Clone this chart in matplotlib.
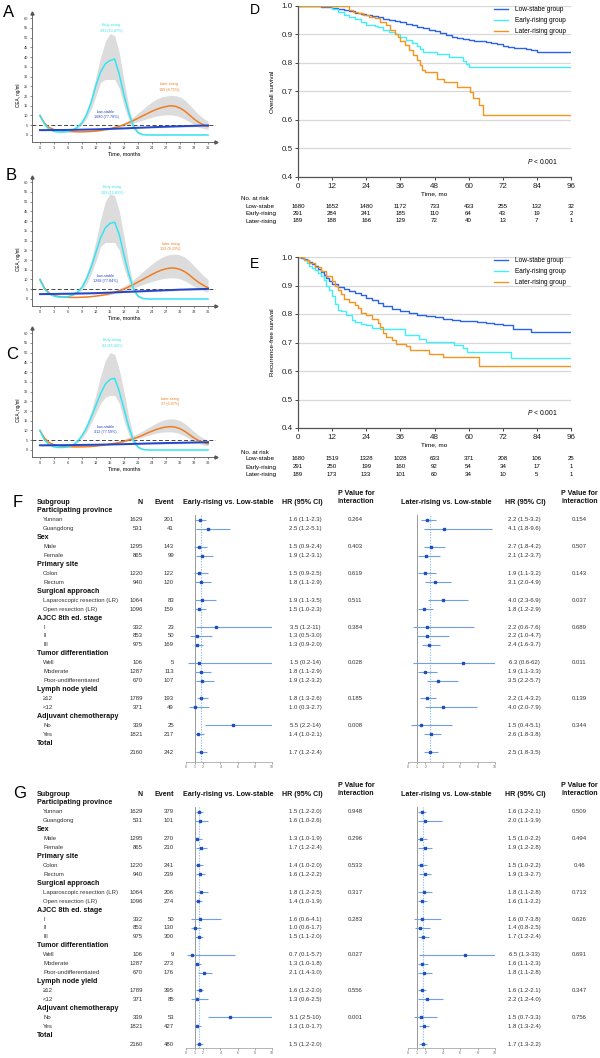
import numpy as np
import matplotlib
matplotlib.use('Agg')
import matplotlib.pyplot as plt
from matplotlib import transforms

plt.rcParams['font.family'] = ['Liberation Sans', 'DejaVu Sans']
plt.rcParams['mathtext.fontset'] = 'custom'
plt.rcParams['mathtext.it'] = 'Liberation Sans:italic'
plt.rcParams['mathtext.rm'] = 'Liberation Sans'

# ---------------- trajectory data (CEA, ng/ml by month) ----------------
months = list(range(37))
early_band_t = list(range(7, 23))
later_band_t = list(range(14, 37))
low_t = [0, 6, 12, 18, 24, 30, 36]
traj_names = ['Low-stable', 'Early-rising', 'Later-rising']

a_counts = [1680, 291, 189]
a_early = [10, 5.5, 2.8, 1.8, 1.5, 1.5, 1.8, 2.6, 4, 6.2, 10.5, 17, 25.5, 32.5, 36.5, 38.2, 39, 31, 20.5, 11.5, 4.5, 1.2, 0.2,
           0, 0, 0, 0, 0, 0, 0, 0, 0, 0, 0, 0, 0, 0]
a_early_hi = [2.8, 4.5, 7.5, 12.5, 20, 30, 40, 48, 52, 51, 42, 28, 15, 6, 1.8, 0.3]
a_early_lo = [2.4, 3.6, 5.2, 8.5, 13.5, 20, 27, 28.5, 28.5, 28.5, 24, 15, 8, 3, 0.6, 0]
a_later = [10, 6, 3.8, 2.8, 2.3, 2, 1.8, 1.7, 1.6, 1.6, 1.7, 1.8, 2, 2.3, 2.7, 3.2, 3.8, 4.5, 5.3, 6.3, 7.4, 8.6, 9.8,
           11, 12.2, 13.2, 14, 14.6, 15, 14.7, 13.8, 12.3, 10.3, 8.2, 6.5, 5.2, 4.4]
a_later_hi = [3.0, 3.5, 4.2, 5, 6, 7.5, 9.3, 11.3, 13.2, 15.2, 17, 18.5, 19.5, 20, 20.3, 20.2, 19.5, 18, 15.5, 13, 10.5, 8.5, 7]
a_later_lo = [2.4, 2.8, 3.2, 3.8, 4.5, 5.2, 6, 6.8, 7.6, 8.4, 9.1, 9.7, 10.1, 10.3, 10.3, 10, 9.3, 8.2, 6.8, 5.3, 4, 3.3, 2.9]
a_low = [2.5, 2.6, 2.9, 3.4, 4.0, 4.5, 4.9]
a_low_hi = [2.9, 3.0, 3.3, 3.8, 4.4, 5.0, 5.5]
a_low_lo = [2.1, 2.2, 2.5, 3.0, 3.6, 4.0, 4.3]

b_counts = [1268, 209, 152]
b_early = [10, 5, 2.5, 1.5, 1, 1, 1.2, 2, 3.5, 6, 10.5, 16.5, 24, 31.5, 36.5, 38.8, 39.4, 33, 22.5, 13, 5.5, 1.5, 0.3,
           0, 0, 0, 0, 0, 0, 0, 0, 0, 0, 0, 0, 0, 0]
b_early_hi = [2.3, 4.2, 7.5, 13, 20, 30, 41, 50, 54, 53, 45, 32, 18, 7, 2, 0.3]
b_early_lo = [1.7, 2.8, 4.5, 8, 13, 19.5, 27, 29, 29, 29, 25, 16, 9, 3.5, 0.8, 0]
b_later = [10, 5.5, 3, 1.8, 1.3, 1, 0.9, 0.8, 0.8, 0.9, 1, 1.2, 1.5, 1.8, 2.2, 2.8, 3.4, 4.2, 5.1, 6.2, 7.4, 8.7, 10,
           11.3, 12.6, 13.8, 14.8, 15.5, 15.9, 15.8, 15.2, 14, 12.3, 10.3, 8.5, 7, 5.8]
b_later_hi = [2.8, 3.5, 4.3, 5.3, 6.5, 8, 9.8, 11.8, 14, 16, 18, 19.8, 21.2, 22.3, 22.9, 23, 22.6, 21.5, 19.5, 17, 14.5, 12, 10]
b_later_lo = [1.8, 2.2, 2.7, 3.3, 4, 4.8, 5.6, 6.5, 7.4, 8.2, 9, 9.7, 10.3, 10.7, 10.9, 10.8, 10.3, 9.3, 8, 6.5, 5.2, 4.2, 3.5]
b_low = [2.5, 2.7, 3.0, 3.6, 4.2, 4.8, 5.2]
b_low_hi = [2.9, 3.1, 3.4, 4.0, 4.7, 5.3, 5.8]
b_low_lo = [2.1, 2.3, 2.6, 3.2, 3.7, 4.3, 4.6]

c_counts = [412, 82, 37]
c_early = [10, 5, 2.6, 1.6, 1.3, 1.3, 1.6, 2.5, 4.3, 7.3, 11.5, 17, 23, 29, 33.8, 36.2, 36.8, 30, 21, 12, 5, 1.5, 0.3,
           0, 0, 0, 0, 0, 0, 0, 0, 0, 0, 0, 0, 0, 0]
c_early_hi = [2.8, 5, 8.5, 13.5, 20, 28.5, 38, 46, 50, 49, 41, 30, 17, 7, 2, 0.4]
c_early_lo = [2.2, 3.6, 6, 9.5, 14, 19, 24, 27, 28, 28, 24, 15, 8, 3, 0.8, 0]
c_later = [10, 6, 3.8, 2.7, 2.2, 1.9, 1.7, 1.6, 1.6, 1.6, 1.7, 1.8, 2, 2.3, 2.6, 3, 3.4, 3.8, 4.4, 5.1, 5.8, 6.6, 7.6,
           8.7, 9.7, 10.6, 11.3, 11.8, 12, 11.7, 10.9, 9.6, 7.9, 6.2, 4.8, 3.8, 3.2]
c_later_hi = [2.9, 3.4, 4, 4.7, 5.5, 6.4, 7.4, 8.5, 9.8, 11.2, 12.6, 13.9, 15, 15.7, 16, 15.8, 15, 13.6, 11.6, 9.5, 7.5, 6, 5]
c_later_lo = [2.3, 2.6, 3, 3.5, 4, 4.6, 5.2, 5.9, 6.6, 7.4, 8.1, 8.7, 9.1, 9.3, 9.3, 9, 8.3, 7.2, 5.8, 4.4, 3.4, 2.6, 2.1]
c_low = [2.4, 2.5, 2.7, 3.0, 3.4, 3.7, 4.0]
c_low_hi = [2.8, 2.9, 3.1, 3.4, 3.8, 4.2, 4.5]
c_low_lo = [2.0, 2.1, 2.3, 2.6, 3.0, 3.2, 3.5]

# ---------------- Kaplan-Meier data ----------------
km_labels = ['Low-stabe group', 'Early-rising group', 'Later-rising group']
risk_rows = ['Low-stabe', 'Early-rising', 'Later-rising']
risk_times = [0, 12, 24, 36, 48, 60, 72, 84, 96]

os_low_t = [0, 8, 10, 12, 14, 16, 18, 20, 22, 24, 26, 28, 30, 32, 34, 36, 38, 40, 42, 44, 46, 48, 50, 52, 54, 56, 58,
            60, 62, 64, 66, 68, 70, 72, 74, 76, 78, 80, 82, 84, 96]
os_low_s = [1.0, 0.998, 0.995, 0.992, 0.988, 0.985, 0.981, 0.977, 0.972, 0.968, 0.964, 0.96, 0.956, 0.952, 0.948,
            0.944, 0.938, 0.932, 0.927, 0.922, 0.917, 0.912, 0.905, 0.898, 0.891, 0.887, 0.884, 0.88, 0.878, 0.876,
            0.873, 0.87, 0.866, 0.858, 0.856, 0.854, 0.851, 0.848, 0.845, 0.838, 0.838]
os_early_t = [0, 12, 14, 16, 18, 20, 22, 24, 27, 28, 30, 32, 34, 36, 38, 40, 42, 43, 44, 49, 53, 58, 59, 60, 96]
os_early_s = [1.0, 0.99, 0.98, 0.97, 0.962, 0.953, 0.943, 0.933, 0.931, 0.925, 0.916, 0.908, 0.9, 0.892, 0.88, 0.869,
              0.858, 0.848, 0.84, 0.831, 0.822, 0.808, 0.796, 0.787, 0.787]
os_later_t = [0, 18, 19.5, 21, 23, 25, 27, 29, 31, 32.5, 34, 35, 36, 37.5, 39, 40.5, 42, 43, 43.5, 44.5, 49, 51.5, 56,
              60.5, 61.5, 63.5, 65, 96]
os_later_s = [1.0, 0.986, 0.98, 0.974, 0.968, 0.962, 0.957, 0.945, 0.933, 0.915, 0.9, 0.89, 0.876, 0.863, 0.845, 0.828,
              0.81, 0.793, 0.775, 0.769, 0.745, 0.734, 0.716, 0.699, 0.676, 0.652, 0.617, 0.617]
os_risk = [[1680, 1652, 1480, 1172, 733, 433, 255, 132, 32],
           [291, 284, 241, 185, 110, 64, 43, 19, 2],
           [189, 188, 166, 129, 72, 40, 13, 7, 1]]

rfs_low_t = [0, 1, 2, 3, 4, 5, 6, 7, 8, 9, 10, 11, 12, 14, 16, 18, 20, 22, 24, 26, 28, 30, 33, 36, 39, 42, 45, 48, 51,
             54, 57, 60, 63, 66, 69, 72, 74, 75.5, 80, 82, 96]
rfs_low_s = [1.0, 0.997, 0.993, 0.988, 0.982, 0.975, 0.967, 0.958, 0.948, 0.937, 0.926, 0.915, 0.905, 0.896, 0.888,
             0.88, 0.872, 0.865, 0.857, 0.848, 0.839, 0.828, 0.818, 0.81, 0.805, 0.798, 0.793, 0.788, 0.784, 0.78,
             0.777, 0.774, 0.771, 0.769, 0.765, 0.763, 0.76, 0.749, 0.746, 0.738, 0.738]
rfs_early_t = [0, 2, 3, 4, 5, 6, 7, 8, 9, 10, 11, 12, 13, 14, 15, 17, 19, 20, 22, 24, 26, 29, 37.5, 42.5, 45, 55, 58,
               59.5, 75, 96]
rfs_early_s = [1.0, 0.99, 0.98, 0.97, 0.962, 0.953, 0.945, 0.935, 0.92, 0.9, 0.885, 0.862, 0.835, 0.815, 0.81, 0.798,
               0.78, 0.772, 0.765, 0.762, 0.752, 0.746, 0.728, 0.712, 0.702, 0.692, 0.68, 0.668, 0.646, 0.646]
rfs_later_t = [0, 2, 4, 6, 8, 10, 12, 13, 14, 15, 16, 18, 20, 21, 22, 24, 26, 28, 29, 30, 31, 33, 34.5, 38, 39.5, 46,
               51, 63.7, 96]
rfs_later_s = [1.0, 0.99, 0.98, 0.965, 0.95, 0.935, 0.915, 0.9, 0.885, 0.87, 0.852, 0.843, 0.832, 0.82, 0.805, 0.795,
               0.782, 0.77, 0.755, 0.735, 0.718, 0.71, 0.693, 0.686, 0.675, 0.658, 0.649, 0.617, 0.617]
rfs_risk = [[1680, 1519, 1328, 1028, 633, 371, 208, 106, 25],
            [291, 250, 199, 160, 92, 54, 34, 17, 1],
            [189, 173, 133, 101, 60, 34, 10, 5, 1]]

# ---------------- forest plot data ----------------
sub_groups = ['Participating province', 'Sex', 'Primary site', 'Surgical approach', 'AJCC 8th ed. stage',
              'Tumor differentiation', 'Lymph node yield', 'Adjuvant chemotherapy', 'Total']
sub_items = [['Yunnan', 'Guangdong'], ['Male', 'Female'], ['Colon', 'Rectum'],
             ['Laparoscopic resection (LR)', 'Open resection (LR)'], ['I', 'II', 'III'],
             ['Well', 'Moderate', 'Poor-undifferentiated'], ['\u226512', '<12'], ['No', 'Yes'], ['']]
n_pat = [1629, 531, 1295, 865, 1220, 940, 1064, 1096, 332, 853, 975, 106, 1287, 670, 1789, 371, 339, 1821, 2160]

f_events = [201, 41, 143, 99, 122, 120, 83, 159, 23, 50, 169, 5, 113, 107, 193, 49, 25, 217, 242]
f_hr1 = [1.6, 2.5, 1.5, 1.9, 1.5, 1.8, 1.9, 1.5, 3.5, 1.3, 1.3, 1.5, 1.8, 1.9, 1.8, 1.0, 5.5, 1.4, 1.7]
f_lo1 = [1.1, 1.2, 0.9, 1.2, 0.9, 1.1, 1.1, 1.0, 1.2, 0.5, 0.9, 0.2, 1.1, 1.2, 1.3, 0.3, 2.2, 1.0, 1.2]
f_hi1 = [2.3, 5.1, 2.4, 3.1, 2.5, 2.9, 3.5, 2.3, 11, 3.0, 2.0, 14, 2.9, 3.2, 2.6, 2.7, 14, 2.1, 2.4]
f_p1 = ['0.264', '0.403', '0.619', '0.511', '0.384', '0.028', '0.185', '0.008']
f_hr2 = [2.2, 4.1, 2.7, 2.1, 1.9, 3.1, 4.0, 1.8, 2.2, 2.2, 2.4, 6.3, 1.9, 3.5, 2.2, 4.0, 1.5, 2.6, 2.5]
f_lo2 = [1.5, 1.8, 1.8, 1.2, 1.1, 2.0, 2.3, 1.2, 0.6, 1.0, 1.6, 0.6, 1.1, 2.2, 1.4, 2.0, 0.4, 1.8, 1.8]
f_hi2 = [3.2, 9.6, 4.2, 3.7, 3.2, 4.9, 6.9, 2.9, 7.6, 4.7, 3.7, 62, 3.3, 5.7, 3.2, 7.9, 5.1, 3.8, 3.5]
f_p2 = ['0.154', '0.507', '0.143', '0.037', '0.689', '0.011', '0.139', '0.344']

g_events = [379, 101, 270, 210, 241, 239, 206, 274, 50, 130, 300, 9, 273, 176, 395, 85, 53, 427, 480]
g_hr1 = [1.5, 1.6, 1.3, 1.7, 1.4, 1.6, 1.8, 1.4, 1.6, 1.0, 1.5, 0.7, 1.3, 2.1, 1.6, 1.3, 5.1, 1.3, 1.5]
g_lo1 = [1.2, 1.0, 1.0, 1.2, 1.0, 1.2, 1.2, 1.0, 0.6, 0.6, 1.1, 0.1, 1.0, 1.4, 1.2, 0.6, 2.5, 1.0, 1.2]
g_hi1 = [2.0, 2.6, 1.9, 2.4, 2.0, 2.2, 2.5, 1.9, 4.1, 1.7, 2.0, 5.7, 1.8, 3.0, 2.0, 2.5, 10, 1.7, 2.0]
g_p1 = ['0.948', '0.296', '0.533', '0.317', '0.283', '0.027', '0.556', '0.001']
g_hr2 = [1.6, 2.0, 1.5, 1.9, 1.5, 1.9, 1.8, 1.6, 1.6, 1.4, 1.7, 6.5, 1.6, 1.8, 1.6, 2.2, 1.5, 1.8, 1.7]
g_lo2 = [1.2, 1.1, 1.0, 1.2, 1.0, 1.3, 1.1, 1.1, 0.7, 0.8, 1.2, 1.3, 1.1, 1.1, 1.2, 1.2, 0.7, 1.3, 1.3]
g_hi2 = [2.1, 3.9, 2.2, 2.8, 2.2, 2.7, 2.8, 2.2, 3.8, 2.5, 2.4, 33, 2.3, 2.8, 2.1, 4.0, 3.3, 2.4, 2.2]
g_p2 = ['0.509', '0.494', '0.46', '0.713', '0.626', '0.691', '0.347', '0.756']

W, H = 600, 1058
fig = plt.figure(figsize=(6, 10.58), dpi=100)

BLUE_T, CYAN_T, ORANGE_T = '#2446c8', '#33e4f2', '#f07d22'
KM_COLORS = ['#2a63e6', '#3ff0fb', '#f7941d']


def add_ax(x0, y0, x1, y1):
    return fig.add_axes([x0 / W, 1 - y1 / H, (x1 - x0) / W, (y1 - y0) / H])


def fig_text(x, y, s, **kw):
    return fig.text(x / W, 1 - y / H, s, **kw)


def draw_traj(ax, early, e_hi, e_lo, later, l_hi, l_lo, low, s_hi, s_lo, counts, pos):
    gray = '#dcdcdc'
    ax.fill_between(early_band_t, e_lo, e_hi, color=gray, lw=0, zorder=1)
    ax.fill_between(later_band_t, l_lo, l_hi, color=gray, lw=0, zorder=1)
    ax.fill_between(low_t, s_lo, s_hi, color=gray, lw=0, zorder=1)
    ax.axhline(5, color='#444', lw=0.7, ls=(0, (4, 2.5)), zorder=2)
    ax.plot(months, later, color=ORANGE_T, lw=1.1, zorder=3)
    ax.plot(months, early, color=CYAN_T, lw=1.1, zorder=4)
    ax.plot(low_t, low, color=BLUE_T, lw=1.4, zorder=5)
    total = sum(counts)
    for name, n, col, (x, y) in zip(traj_names, counts, [BLUE_T, CYAN_T, ORANGE_T], pos):
        ax.text(x, y, f'{name}\n{n} ({n / total * 100:.2f}%)', color=col, fontsize=2.7,
                ha='center', va='center', linespacing=1.5)
    ax.set_xlim(-1.7, 37.7)
    ax.set_ylim(-3.6, 62.6)
    ax.set_xticks(range(0, 37, 3))
    ax.set_yticks(range(0, 61, 5))
    ax.tick_params(labelsize=2.8, length=1.5, width=0.4, pad=1.5, colors='#333')
    for sp in ['top', 'right']:
        ax.spines[sp].set_visible(False)
    for sp in ['left', 'bottom']:
        ax.spines[sp].set_color('#555')
        ax.spines[sp].set_linewidth(0.6)
    ax.plot(1, 0, marker='>', ms=2.2, color='#555', transform=ax.transAxes, clip_on=False)
    ax.plot(0, 1, marker='^', ms=2.2, color='#555', transform=ax.transAxes, clip_on=False)
    ax.set_xlabel('Time, months', fontsize=3.9, labelpad=1)
    ax.set_ylabel('CEA, ng/ml', fontsize=3.3)
    ax.yaxis.set_label_coords(-0.06, 0.36)


ax_a = add_ax(32, 13, 216, 142)
draw_traj(ax_a, a_early, a_early_hi, a_early_lo, a_later, a_later_hi, a_later_lo, a_low, a_low_hi, a_low_lo,
          a_counts, [(14.2, 10.5), (15.2, 55), (27.7, 24.5)])
ax_b = add_ax(32, 177, 216, 306)
draw_traj(ax_b, b_early, b_early_hi, b_early_lo, b_later, b_later_hi, b_later_lo, b_low, b_low_hi, b_low_lo,
          b_counts, [(14.0, 10.5), (15.5, 56), (28.0, 27)])
ax_c = add_ax(32, 328, 216, 457)
draw_traj(ax_c, c_early, c_early_hi, c_early_lo, c_later, c_later_hi, c_later_lo, c_low, c_low_hi, c_low_lo,
          c_counts, [(14.0, 10.5), (15.5, 55), (27.8, 25)])


def draw_km(ax, curves, risk, ylabel, table_y):
    for (t, s), col, lab in zip(curves, KM_COLORS, km_labels):
        ax.step(t, s, where='post', color=col, lw=1.0, label=lab)
    ax.set_xlim(0, 96)
    ax.set_ylim(0.4, 1.0)
    ax.set_xticks(risk_times)
    ax.set_yticks([0.4, 0.5, 0.6, 0.7, 0.8, 0.9, 1.0])
    ax.yaxis.set_major_formatter('{x:.1f}')
    ax.grid(axis='y', color='#d8d8d8', lw=0.9)
    ax.set_axisbelow(True)
    for sp in ['top', 'right']:
        ax.spines[sp].set_visible(False)
    for sp in ['left', 'bottom']:
        ax.spines[sp].set_color('#555')
        ax.spines[sp].set_linewidth(0.9)
    ax.tick_params(labelsize=5.8, length=2.5, width=0.6, pad=1.5, colors='#222')
    ax.set_xlabel('Time, mo', fontsize=4.6, labelpad=1.5)
    ax.set_ylabel(ylabel, fontsize=4.5)
    ax.yaxis.set_label_coords(-0.085, 0.5)
    ax.text(86, 0.453, r'$P$ < 0.001', fontsize=4.9, ha='center', va='center')
    ax.legend(loc='upper right', bbox_to_anchor=(0.99, 1.015), frameon=False, fontsize=4.7,
              handlelength=2.2, handletextpad=1.0, labelspacing=0.6, borderaxespad=0)
    trans = transforms.blended_transform_factory(ax.transData, fig.transFigure)
    fig_text(241, table_y[0], 'No. at risk', fontsize=4.4, va='center')
    for i, (lab, vals) in enumerate(zip(risk_rows, risk)):
        y = table_y[i + 1]
        fig_text(246, y, lab, fontsize=4.5, va='center')
        for t, v in zip(risk_times, vals):
            ax.text(t, 1 - y / H, str(v), transform=trans, fontsize=4.4, ha='center', va='center')


ax_d = add_ax(298, 6, 571, 177)
draw_km(ax_d, [(os_low_t, os_low_s), (os_early_t, os_early_s), (os_later_t, os_later_s)], os_risk,
        'Overall survival', [199, 206, 214, 221])
ax_e = add_ax(298, 257, 571, 428)
draw_km(ax_e, [(rfs_low_t, rfs_low_s), (rfs_early_t, rfs_early_s), (rfs_later_t, rfs_later_s)], rfs_risk,
        'Recurrence-free survival', [452, 459, 467, 474])


def fmt(v):
    return f'{v:.0f}' if v >= 10 else f'{v:.1f}'


def draw_forest(row0, axis_px, events, hr1, lo1, hi1, p1, hr2, lo2, hi2, p2):
    step = 8.926
    top = row0 + 4
    header_rows, item_rows, item_labels, first_rows = [], [], [], []
    r = 0
    for g, items in zip(sub_groups, sub_items):
        header_rows.append(r)
        r += 1
        first_rows.append(r)
        for it in items:
            item_rows.append(r)
            item_labels.append(it)
            r += 1

    axes = []
    for (x0, x1), hr, lo, hi in [((186, 272), hr1, lo1, hi1), ((408, 495), hr2, lo2, hi2)]:
        ax = add_ax(x0, top, x1, axis_px)
        ax.set_xlim(0, 10)
        ax.set_ylim((axis_px - row0) / step, (top - row0) / step)
        ax.axvline(1, color='#888', lw=0.6, zorder=1)
        ax.axvline(hr[-1], color='#8cbcf0', lw=0.8, ls=(0, (1.2, 1.2)), zorder=1)
        ax.hlines(item_rows, np.clip(lo, 0, 10), np.clip(hi, 0, 10), color='#6f9fe6', lw=0.8, zorder=2)
        ax.plot(hr, item_rows, 's', color='#1f4fbf', ms=2.0, zorder=3)
        for sp in ['top', 'right', 'left']:
            ax.spines[sp].set_visible(False)
        ax.spines['bottom'].set_color('#999')
        ax.spines['bottom'].set_linewidth(0.5)
        ax.set_yticks([])
        ax.set_xticks([0, 1, 2, 4, 6, 8, 10])
        ax.tick_params(labelsize=2.5, length=1.2, width=0.4, pad=1, colors='#666')
        axes.append(ax)

    tr = transforms.blended_transform_factory(fig.transFigure, axes[0].transData)

    def txt(x, y, s, **kw):
        kw.setdefault('fontsize', 4.3)
        kw.setdefault('color', '#333')
        kw.setdefault('va', 'center')
        axes[0].text(x / W, y, s, transform=tr, **kw)

    hb = dict(fontsize=5.1, fontweight='bold', color='#111')
    txt(37, -1, 'Subgroup', **hb)
    txt(143, -1, 'N', ha='right', **hb)
    txt(174, -1, 'Event', ha='right', **hb)
    txt(228, -1, 'Early-rising vs. Low-stable', ha='center', **hb)
    txt(302, -1, 'HR (95% CI)', ha='center', **hb)
    txt(338, -1.5, 'P Value for\ninteraction', linespacing=1.35, **hb)
    txt(446, -1, 'Later-rising vs. Low-stable', ha='center', **hb)
    txt(525, -1, 'HR (95% CI)', ha='center', **hb)
    txt(561, -1.5, 'P Value for\ninteraction', linespacing=1.35, **hb)

    for g, r in zip(sub_groups, header_rows):
        txt(37, r, g, **hb)
    for i, r in enumerate(item_rows):
        txt(43, r, item_labels[i])
        txt(143, r, str(n_pat[i]), ha='right')
        txt(174, r, str(events[i]), ha='right')
        txt(305, r, f'{fmt(hr1[i])} ({fmt(lo1[i])}-{fmt(hi1[i])})', ha='center')
        txt(524, r, f'{fmt(hr2[i])} ({fmt(lo2[i])}-{fmt(hi2[i])})', ha='center')
    for r, pa, pb in zip(first_rows, p1, p2):
        txt(355.5, r, pa, ha='center')
        txt(579.5, r, pb, ha='center')


draw_forest(511, 762, f_events, f_hr1, f_lo1, f_hi1, f_p1, f_hr2, f_lo2, f_hi2, f_p2)
draw_forest(803, 1048, g_events, g_hr1, g_lo1, g_hi1, g_p1, g_hr2, g_lo2, g_hi2, g_p2)

for letter, x, y, size in [('A', 3, 5, 12), ('B', 6, 168, 12), ('C', 6, 347, 12), ('D', 250, 3, 10),
                           ('E', 250, 257, 10), ('F', 13, 495, 12), ('G', 13, 786, 12)]:
    fig_text(x, y, letter, fontsize=size, va='top', ha='left')

fig.savefig('out.png', dpi=100)
